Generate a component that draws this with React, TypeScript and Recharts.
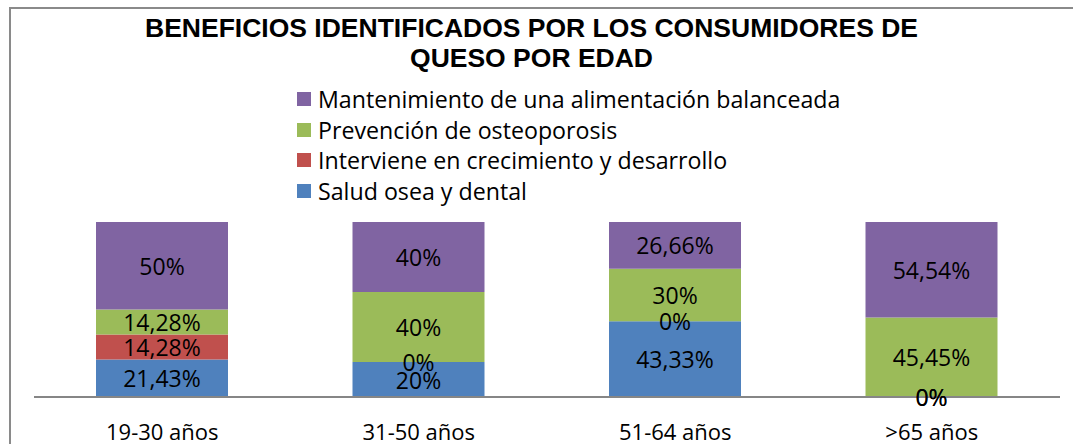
import { BarChart, Bar, XAxis, YAxis, Legend, LabelList } from 'recharts';

const categories = ['19-30 años', '31-50 años', '51-64 años', '>65 años'];
const saludOsea = [21.43, 20, 43.33, 0];
const crecimiento = [14.28, 0, 0, 0];
const osteoporosis = [14.28, 40, 30, 45.45];
const alimentacion = [50, 40, 26.66, 54.54];

const seriesNames = {
  salud: 'Salud osea y dental',
  crec: 'Interviene en crecimiento y desarrollo',
  osteo: 'Prevención de osteoporosis',
  alim: 'Mantenimiento de una alimentación balanceada',
};
// legend reads top to bottom from the top of the stack down
const legendOrder = ['alim', 'osteo', 'crec', 'salud'];

const chartData = categories.map((name, i) => ({
  name,
  salud: saludOsea[i],
  crec: crecimiento[i],
  osteo: osteoporosis[i],
  alim: alimentacion[i],
}));

const FONT = '"Open Sans", sans-serif';

const fmt = (v: number) => `${String(v).replace('.', ',')}%`;

const SegmentLabel = (props: any) => {
  const { x, y, width, height, value } = props;
  if (value == null) return null;
  return (
    <text
      x={Number(x) + Number(width) / 2}
      y={Number(y) + Number(height) / 2}
      textAnchor="middle"
      dominantBaseline="central"
      fontFamily={FONT}
      fontSize={23}
      fill="#000"
    >
      {fmt(value)}
    </text>
  );
};

const LegendContent = ({ payload }: any) => {
  const items = [...(payload || [])].sort(
    (a: any, b: any) =>
      legendOrder.indexOf(a.dataKey) - legendOrder.indexOf(b.dataKey)
  );
  return (
    <div style={{ fontFamily: FONT, fontSize: 23.2, color: '#000' }}>
      {items.map((p: any) => (
        <div
          key={p.value}
          style={{ display: 'flex', alignItems: 'center', height: 30.5 }}
        >
          <span
            style={{
              display: 'inline-block',
              width: 14,
              height: 14,
              background: p.color,
              marginRight: 7,
            }}
          />
          <span style={{ whiteSpace: 'nowrap' }}>{p.value}</span>
        </div>
      ))}
    </div>
  );
};

export default function App() {
  return (
    <div
      style={{
        position: 'absolute',
        left: 0,
        top: 0,
        width: 1073,
        height: 444,
        overflow: 'hidden',
        background: '#fff',
      }}
    >
      <div
        style={{
          position: 'absolute',
          left: 9,
          top: 7,
          width: 1100,
          height: 500,
          border: '2px solid #8a8a8a',
        }}
      />
      <div
        style={{
          position: 'absolute',
          left: 0,
          top: 13,
          width: 1063,
          textAlign: 'center',
          fontFamily: '"Liberation Sans", Arial, sans-serif',
          fontWeight: 'bold',
          fontSize: 26.5,
          lineHeight: '30px',
          color: '#000',
        }}
      >
        BENEFICIOS IDENTIFICADOS POR LOS CONSUMIDORES DE
        <br />
        QUESO POR EDAD
      </div>
      <BarChart
        width={1073}
        height={444}
        data={chartData}
        margin={{ top: 222, right: 13, bottom: 0, left: 34 }}
        style={{ position: 'absolute', left: 0, top: 0 }}
        barSize={132}
      >
        <XAxis
          dataKey="name"
          height={47}
          tickLine={false}
          axisLine={{ stroke: '#868686', strokeWidth: 2 }}
          tickMargin={21}
          tick={{ fontFamily: FONT, fontSize: 22, fill: '#000' }}
        />
        <YAxis hide domain={[0, 100]} />
        <Legend
          layout="vertical"
          verticalAlign="middle"
          align="center"
          content={<LegendContent />}
          wrapperStyle={{ position: 'absolute', left: 297, top: 84, width: 600 }}
        />
        <Bar dataKey="salud" name={seriesNames.salud} stackId="a" fill="#4F81BD" minPointSize={0.01} isAnimationActive={false}>
          <LabelList dataKey="salud" content={<SegmentLabel />} />
        </Bar>
        <Bar dataKey="crec" name={seriesNames.crec} stackId="a" fill="#C0504D" minPointSize={0.01} isAnimationActive={false}>
          <LabelList dataKey="crec" content={<SegmentLabel />} />
        </Bar>
        <Bar dataKey="osteo" name={seriesNames.osteo} stackId="a" fill="#9BBB59" isAnimationActive={false}>
          <LabelList dataKey="osteo" content={<SegmentLabel />} />
        </Bar>
        <Bar dataKey="alim" name={seriesNames.alim} stackId="a" fill="#8064A2" isAnimationActive={false}>
          <LabelList dataKey="alim" content={<SegmentLabel />} />
        </Bar>
      </BarChart>
    </div>
  );
}
